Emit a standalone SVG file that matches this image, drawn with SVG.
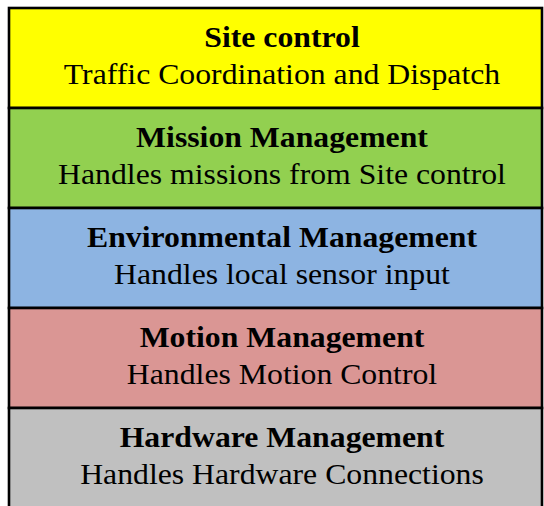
<svg xmlns="http://www.w3.org/2000/svg" width="544" height="506" viewBox="0 0 544 506">
  <style>
    .layer { stroke: #000; stroke-width: 2.6; }
    .title { font-family: "Liberation Serif", "Times New Roman", serif; font-size: 29px; font-weight: bold; fill: #000; text-anchor: middle; }
    .desc { font-family: "Liberation Serif", "Times New Roman", serif; font-size: 29px; fill: #000; text-anchor: middle; }
  </style>
  <rect width="544" height="506" fill="#fff"/>

  <!-- Stacked layers, top to bottom -->
  <g id="site-control">
    <rect class="layer" x="9" y="8" width="533" height="100" fill="#FFFF00"/>
    <g transform="translate(282,0) scale(1.095,1)">
      <text class="title" x="0" y="47">Site control</text>
      <text class="desc" x="0" y="84">Traffic Coordination and Dispatch</text>
    </g>
  </g>

  <g id="mission-management">
    <rect class="layer" x="9" y="108" width="533" height="100" fill="#92D050"/>
    <g transform="translate(282,0) scale(1.095,1)">
      <text class="title" x="0" y="147">Mission Management</text>
      <text class="desc" x="0" y="184">Handles missions from Site control</text>
    </g>
  </g>

  <g id="environmental-management">
    <rect class="layer" x="9" y="208" width="533" height="100" fill="#8DB4E2"/>
    <g transform="translate(282,0) scale(1.095,1)">
      <text class="title" x="0" y="247">Environmental Management</text>
      <text class="desc" x="0" y="284">Handles local sensor input</text>
    </g>
  </g>

  <g id="motion-management">
    <rect class="layer" x="9" y="308" width="533" height="100" fill="#DA9694"/>
    <g transform="translate(282,0) scale(1.095,1)">
      <text class="title" x="0" y="347">Motion Management</text>
      <text class="desc" x="0" y="384">Handles Motion Control</text>
    </g>
  </g>

  <g id="hardware-management">
    <rect class="layer" x="9" y="408" width="533" height="110" fill="#C0C0C0"/>
    <g transform="translate(282,0) scale(1.095,1)">
      <text class="title" x="0" y="447">Hardware Management</text>
      <text class="desc" x="0" y="484">Handles Hardware Connections</text>
    </g>
  </g>

  <g id="connectors"/>
</svg>
